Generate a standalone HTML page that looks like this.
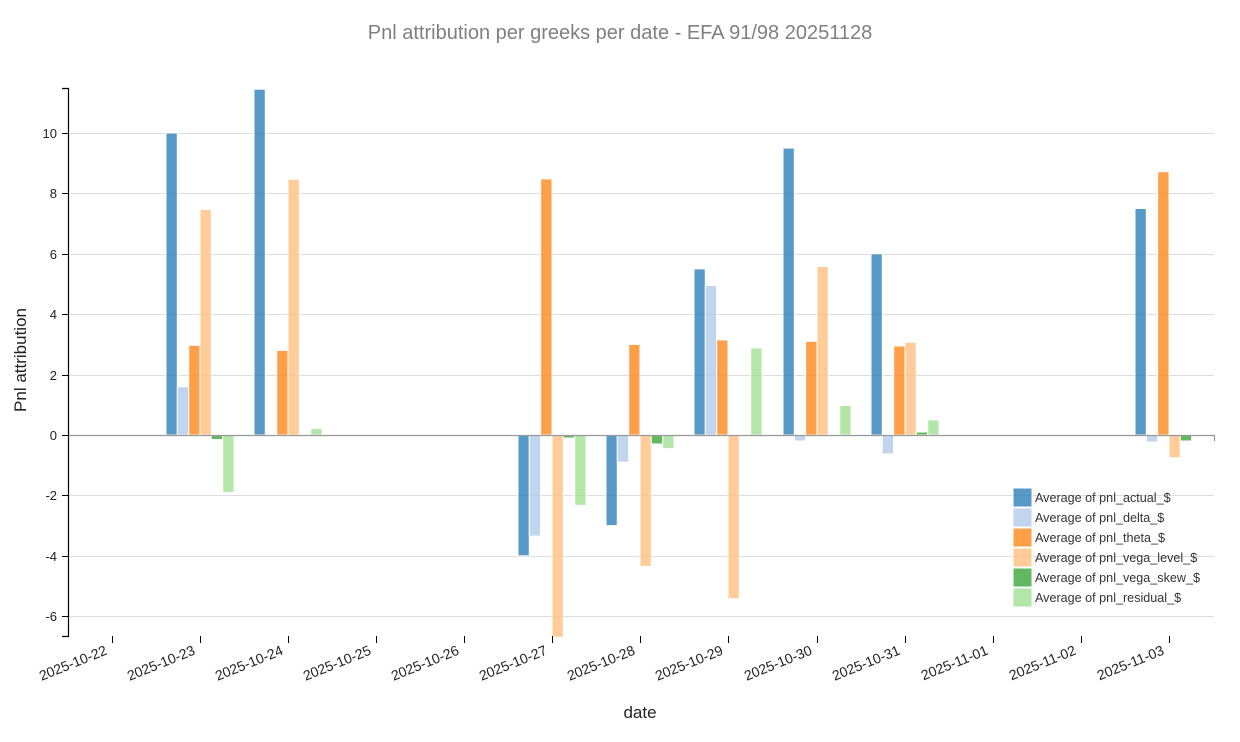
<!DOCTYPE html>
<html><head><meta charset="utf-8"><style>
html,body{margin:0;padding:0;background:#fff;}
svg{display:block;font-family:"Liberation Sans",Arial,sans-serif;}
</style></head><body>
<svg width="1240" height="742" viewBox="0 0 1240 742" xmlns="http://www.w3.org/2000/svg">
<text x="620" y="39" text-anchor="middle" font-size="20" fill="#808080">Pnl attribution per greeks per date - EFA 91/98 20251128</text>
<g stroke="#ddd" stroke-width="1">
<line x1="68" x2="1214" y1="133.5" y2="133.5"/><line x1="68" x2="1214" y1="193.5" y2="193.5"/><line x1="68" x2="1214" y1="254.5" y2="254.5"/><line x1="68" x2="1214" y1="314.5" y2="314.5"/><line x1="68" x2="1214" y1="375.5" y2="375.5"/><line x1="68" x2="1214" y1="495.5" y2="495.5"/><line x1="68" x2="1214" y1="556.5" y2="556.5"/><line x1="68" x2="1214" y1="616.5" y2="616.5"/>
</g>
<g stroke="#fff" stroke-width="1" fill-opacity="0.75">
<g fill="#1f77b4">
<rect x="166" y="133" width="11.3" height="302"/><rect x="254" y="89.2" width="11.3" height="345.8"/><rect x="518" y="435" width="11.3" height="120.8"/><rect x="606" y="435" width="11.3" height="90.6"/><rect x="694" y="268.9" width="11.3" height="166.1"/><rect x="783" y="148.1" width="11.3" height="286.9"/><rect x="871" y="253.8" width="11.3" height="181.2"/><rect x="1135" y="208.5" width="11.3" height="226.5"/>
</g>
<g fill="#aec7e8">
<rect x="177.3" y="386.7" width="11.3" height="48.3"/><rect x="529.3" y="435" width="11.3" height="101.2"/><rect x="617.3" y="435" width="11.3" height="27.2"/><rect x="705.3" y="285.5" width="11.3" height="149.5"/><rect x="794.3" y="435" width="11.3" height="6"/><rect x="882.3" y="435" width="11.3" height="19"/><rect x="1146.3" y="435" width="11.3" height="7"/>
</g>
<g fill="#ff7f0e">
<rect x="188.7" y="345.3" width="11.3" height="89.7"/><rect x="276.7" y="350.4" width="11.3" height="84.6"/><rect x="540.7" y="178.9" width="11.3" height="256.1"/><rect x="628.7" y="344.4" width="11.3" height="90.6"/><rect x="716.7" y="339.9" width="11.3" height="95.1"/><rect x="805.7" y="341.4" width="11.3" height="93.6"/><rect x="893.7" y="345.9" width="11.3" height="89.1"/><rect x="1157.7" y="171.7" width="11.3" height="263.3"/>
</g>
<g fill="#ffbb78">
<rect x="200" y="209.4" width="11.3" height="225.6"/><rect x="288" y="179.2" width="11.3" height="255.8"/><rect x="552" y="435" width="11.3" height="202.3"/><rect x="640" y="435" width="11.3" height="131.4"/><rect x="728" y="435" width="11.3" height="163.7"/><rect x="817" y="266.5" width="11.3" height="168.5"/><rect x="905" y="342.3" width="11.3" height="92.7"/><rect x="1169" y="435" width="11.3" height="22.7"/>
</g>
<g fill="#2ca02c">
<rect x="211.3" y="435" width="11.3" height="4.5"/><rect x="563.3" y="435" width="11.3" height="3"/><rect x="651.3" y="435" width="11.3" height="9"/><rect x="739.3" y="435" width="11.3" height="1.5"/><rect x="828.3" y="434" width="11.3" height="1"/><rect x="916.3" y="432" width="11.3" height="3"/><rect x="1180.3" y="435" width="11.3" height="6"/>
</g>
<g fill="#98df8a">
<rect x="222.7" y="435" width="11.3" height="57.4"/><rect x="310.7" y="428.4" width="11.3" height="6.6"/><rect x="574.7" y="435" width="11.3" height="70.4"/><rect x="662.7" y="435" width="11.3" height="13.6"/><rect x="750.7" y="348" width="11.3" height="87"/><rect x="839.7" y="405.4" width="11.3" height="29.6"/><rect x="927.7" y="419.9" width="11.3" height="15.1"/>
</g>
</g>
<path d="M68,435.5H1214.5V441" stroke="#999" stroke-width="1.2" fill="none"/>
<path d="M62,88.5H68.5V636.5H62" stroke="#000" stroke-width="1.2" fill="none"/>
<g stroke="#000"><line x1="62" x2="68" y1="133.5" y2="133.5"/><line x1="62" x2="68" y1="193.5" y2="193.5"/><line x1="62" x2="68" y1="254.5" y2="254.5"/><line x1="62" x2="68" y1="314.5" y2="314.5"/><line x1="62" x2="68" y1="375.5" y2="375.5"/><line x1="62" x2="68" y1="435.5" y2="435.5"/><line x1="62" x2="68" y1="495.5" y2="495.5"/><line x1="62" x2="68" y1="556.5" y2="556.5"/><line x1="62" x2="68" y1="616.5" y2="616.5"/></g>
<g font-size="13" fill="#222" text-anchor="end">
<text x="57" y="138">10</text><text x="57" y="198">8</text><text x="57" y="259">6</text><text x="57" y="319">4</text><text x="57" y="380">2</text><text x="57" y="440">0</text><text x="57" y="500">-2</text><text x="57" y="561">-4</text><text x="57" y="621">-6</text>
</g>
<g stroke="#000">
<line x1="112.5" x2="112.5" y1="636" y2="643"/><line x1="200.5" x2="200.5" y1="636" y2="643"/><line x1="288.5" x2="288.5" y1="636" y2="643"/><line x1="376.5" x2="376.5" y1="636" y2="643"/><line x1="464.5" x2="464.5" y1="636" y2="643"/><line x1="552.5" x2="552.5" y1="636" y2="643"/><line x1="640.5" x2="640.5" y1="636" y2="643"/><line x1="728.5" x2="728.5" y1="636" y2="643"/><line x1="817.5" x2="817.5" y1="636" y2="643"/><line x1="905.5" x2="905.5" y1="636" y2="643"/><line x1="993.5" x2="993.5" y1="636" y2="643"/><line x1="1081.5" x2="1081.5" y1="636" y2="643"/><line x1="1169.5" x2="1169.5" y1="636" y2="643"/>
</g>
<g font-size="14" fill="#222" text-anchor="end">
<text transform="translate(108,654) rotate(-22)">2025-10-22</text>
<text transform="translate(196,654) rotate(-22)">2025-10-23</text>
<text transform="translate(284,654) rotate(-22)">2025-10-24</text>
<text transform="translate(372,654) rotate(-22)">2025-10-25</text>
<text transform="translate(460,654) rotate(-22)">2025-10-26</text>
<text transform="translate(548,654) rotate(-22)">2025-10-27</text>
<text transform="translate(636,654) rotate(-22)">2025-10-28</text>
<text transform="translate(724,654) rotate(-22)">2025-10-29</text>
<text transform="translate(813,654) rotate(-22)">2025-10-30</text>
<text transform="translate(901,654) rotate(-22)">2025-10-31</text>
<text transform="translate(989,654) rotate(-22)">2025-11-01</text>
<text transform="translate(1077,654) rotate(-22)">2025-11-02</text>
<text transform="translate(1165,654) rotate(-22)">2025-11-03</text>
</g>
<text x="640" y="718" text-anchor="middle" font-size="17" fill="#222">date</text>
<text transform="translate(26,360) rotate(-90)" text-anchor="middle" font-size="17" fill="#222">Pnl attribution</text>
<g fill-opacity="0.75" stroke="#fff">
<rect x="1013" y="488" width="19" height="19" fill="#1f77b4"/>
<rect x="1013" y="508" width="19" height="19" fill="#aec7e8"/>
<rect x="1013" y="528" width="19" height="19" fill="#ff7f0e"/>
<rect x="1013" y="548" width="19" height="19" fill="#ffbb78"/>
<rect x="1013" y="568" width="19" height="19" fill="#2ca02c"/>
<rect x="1013" y="588" width="19" height="19" fill="#98df8a"/>
</g>
<g font-size="12.6" fill="#333">
<text x="1035" y="502">Average of pnl_actual_$</text>
<text x="1035" y="522">Average of pnl_delta_$</text>
<text x="1035" y="542">Average of pnl_theta_$</text>
<text x="1035" y="562">Average of pnl_vega_level_$</text>
<text x="1035" y="582">Average of pnl_vega_skew_$</text>
<text x="1035" y="602">Average of pnl_residual_$</text>
</g>
</svg>
</body></html>
